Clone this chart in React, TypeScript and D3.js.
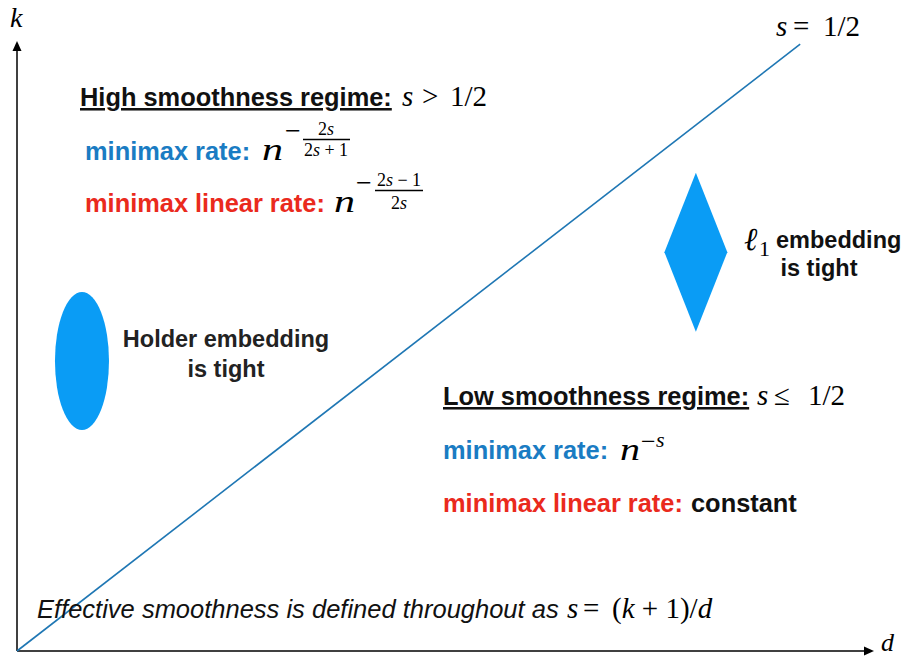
import React from "react";
import * as d3 from "d3";

// ---- data (normalized d–k plane) ----
const dDomain = [0, 1];
const kDomain = [0, 1];
// boundary s = 1/2
const boundaryD = [0, 0.916];
const boundaryK = [0, 0.998];
// Holder ellipse: centre and radii
const ellipseCentre = [0.076, 0.477];
const ellipseRadii = [0.0316, 0.1135];
// l1 diamond: centre and half-sizes
const diamondCentre = [0.794, 0.656];
const diamondHalf = [0.0368, 0.1308];

const SANS = "'Liberation Sans', Arial, Helvetica, sans-serif";
const SERIF = "'Liberation Serif', 'Times New Roman', serif";
const BLUE_TXT = "#1a7cc3";
const RED_TXT = "#ea2a1d";
const SHAPE = "#0a9cf5";
const LINE = "#1f77b4";

export default function App() {
  const x = d3.scaleLinear().domain(dDomain).range([17, 872]);
  const y = d3.scaleLinear().domain(kDomain).range([651, 43]);
  const pts: [number, number][] = boundaryD.map((d, i) => [d, boundaryK[i]]);
  const line = d3.line<[number, number]>().x((p) => x(p[0])).y((p) => y(p[1]));

  const [ecx, eck] = ellipseCentre;
  const [erd, erk] = ellipseRadii;
  const [dcx, dck] = diamondCentre;
  const [dhd, dhk] = diamondHalf;
  const diamondPts: [number, number][] = [
    [dcx, dck + dhk],
    [dcx + dhd, dck],
    [dcx, dck - dhk],
    [dcx - dhd, dck],
  ];
  const diamond = d3.line<[number, number]>().x((p) => x(p[0])).y((p) => y(p[1]))(diamondPts) + "Z";

  const bold = { fontFamily: SANS, fontWeight: 700, fontSize: 25.4 } as const;
  const math = { fontFamily: SERIF, fontSize: 29 } as const;
  const frac = { fontFamily: SERIF, fontSize: 18, textAnchor: "middle" } as const;
  const nStyle = { fontFamily: SERIF, fontStyle: "italic", fontSize: 31, lengthAdjust: "spacingAndGlyphs" } as const;

  return (
    <svg width={905} height={659} style={{ position: "absolute", left: 0, top: 0, background: "#fff" }}>
      <rect width={905} height={659} fill="#fff" />
      {/* axes */}
      <line x1={x(0)} y1={y(0)} x2={x(0)} y2={y(1) + 6} stroke="#000" strokeWidth={1.5} />
      <path d={`M${x(0)},${y(1) - 2} L${x(0) - 4.5},${y(1) + 8} L${x(0) + 4.5},${y(1) + 8} Z`} fill="#000" />
      <line x1={x(0)} y1={y(0)} x2={x(1) - 6} y2={y(0)} stroke="#000" strokeWidth={1.5} />
      <path d={`M${x(1) + 2},${y(0)} L${x(1) - 8},${y(0) - 4.5} L${x(1) - 8},${y(0) + 4.5} Z`} fill="#000" />

      {/* boundary line */}
      <path d={line(pts) || ""} stroke={LINE} strokeWidth={1.6} fill="none" />

      {/* shapes */}
      <ellipse cx={x(ecx)} cy={y(eck)} rx={x(erd) - x(0)} ry={y(0) - y(erk)} fill={SHAPE} />
      <path d={diamond} fill={SHAPE} />

      {/* axis labels */}
      <text x={10} y={27} fontFamily={SERIF} fontStyle="italic" fontSize={28}>k</text>
      <text x={881} y={651} fontFamily={SERIF} fontStyle="italic" fontSize={26}>d</text>

      {/* s = 1/2 */}
      <text y={36} {...math}>
        <tspan x={776} fontStyle="italic">s</tspan>
        <tspan x={793}>=</tspan>
        <tspan x={823}>1/2</tspan>
      </text>

      {/* High smoothness */}
      <text x={80} y={106} {...bold} fill="#111" textDecoration="underline">High smoothness regime:</text>
      <text y={106} {...math}>
        <tspan x={402} fontStyle="italic">s</tspan>
        <tspan x={422}>&gt;</tspan>
        <tspan x={450}>1/2</tspan>
      </text>

      <text x={85} y={160} {...bold} fill={BLUE_TXT}>minimax rate:</text>
      <text x={262} y={160} {...nStyle} textLength={21}>n</text>
      <text x={285} y={140} fontFamily={SERIF} fontSize={28}>−</text>
      <text x={326} y={135} {...frac}>
        <tspan>2</tspan><tspan fontStyle="italic">s</tspan>
      </text>
      <line x1={303} x2={350} y1={139.5} y2={139.5} stroke="#000" strokeWidth={1.3} />
      <text x={326} y={156} {...frac}>
        <tspan>2</tspan><tspan fontStyle="italic">s</tspan><tspan> + 1</tspan>
      </text>

      <text x={85} y={212} {...bold} fill={RED_TXT}>minimax linear rate:</text>
      <text x={334} y={212} {...nStyle} textLength={21}>n</text>
      <text x={356} y={192} fontFamily={SERIF} fontSize={28}>−</text>
      <text x={399} y={186} {...frac}>
        <tspan>2</tspan><tspan fontStyle="italic">s</tspan><tspan> − 1</tspan>
      </text>
      <line x1={375} x2={423} y1={190.5} y2={190.5} stroke="#000" strokeWidth={1.3} />
      <text x={399} y={209} {...frac}>
        <tspan>2</tspan><tspan fontStyle="italic">s</tspan>
      </text>

      {/* Holder */}
      <text x={226} y={347} {...bold} fontSize={23.5} fill="#222" textAnchor="middle">Holder embedding</text>
      <text x={226} y={377} {...bold} fontSize={23.5} fill="#222" textAnchor="middle">is tight</text>

      {/* l1 */}
      <text x={744} y={250} fontFamily={SERIF} fontStyle="italic" fontSize={32}>ℓ</text>
      <text x={759} y={256} fontFamily={SERIF} fontSize={22}>1</text>
      <text x={776} y={248} {...bold} fontSize={23.5} fill="#111">embedding</text>
      <text x={819} y={276} {...bold} fontSize={23.5} fill="#111" textAnchor="middle">is tight</text>

      {/* Low smoothness */}
      <text x={443} y={405} {...bold} fill="#111" textDecoration="underline">Low smoothness regime:</text>
      <text y={405} {...math}>
        <tspan x={757} fontStyle="italic">s</tspan>
        <tspan x={774}>≤</tspan>
        <tspan x={808}>1/2</tspan>
      </text>

      <text x={443} y={459} {...bold} fill={BLUE_TXT}>minimax rate:</text>
      <text x={620} y={460} {...nStyle} textLength={20}>n</text>
      <text x={641} y={450} fontFamily={SERIF} fontSize={26}>−</text>
      <text x={656} y={447} fontFamily={SERIF} fontStyle="italic" fontSize={22}>s</text>

      <text x={443} y={512} {...bold} fill={RED_TXT}>minimax linear rate:</text>
      <text x={691} y={512} {...bold} fill="#111">constant</text>

      {/* footer */}
      <text x={37} y={618} fontFamily={SANS} fontStyle="italic" fontSize={25.5} fill="#111">
        Effective smoothness is defined throughout as
      </text>
      <text y={618} {...math}>
        <tspan x={567} fontStyle="italic">s</tspan>
        <tspan x={583}>=</tspan>
        <tspan x={612}>(</tspan>
        <tspan fontStyle="italic">k</tspan>
        <tspan> + 1)/</tspan>
        <tspan fontStyle="italic">d</tspan>
      </text>
    </svg>
  );
}
